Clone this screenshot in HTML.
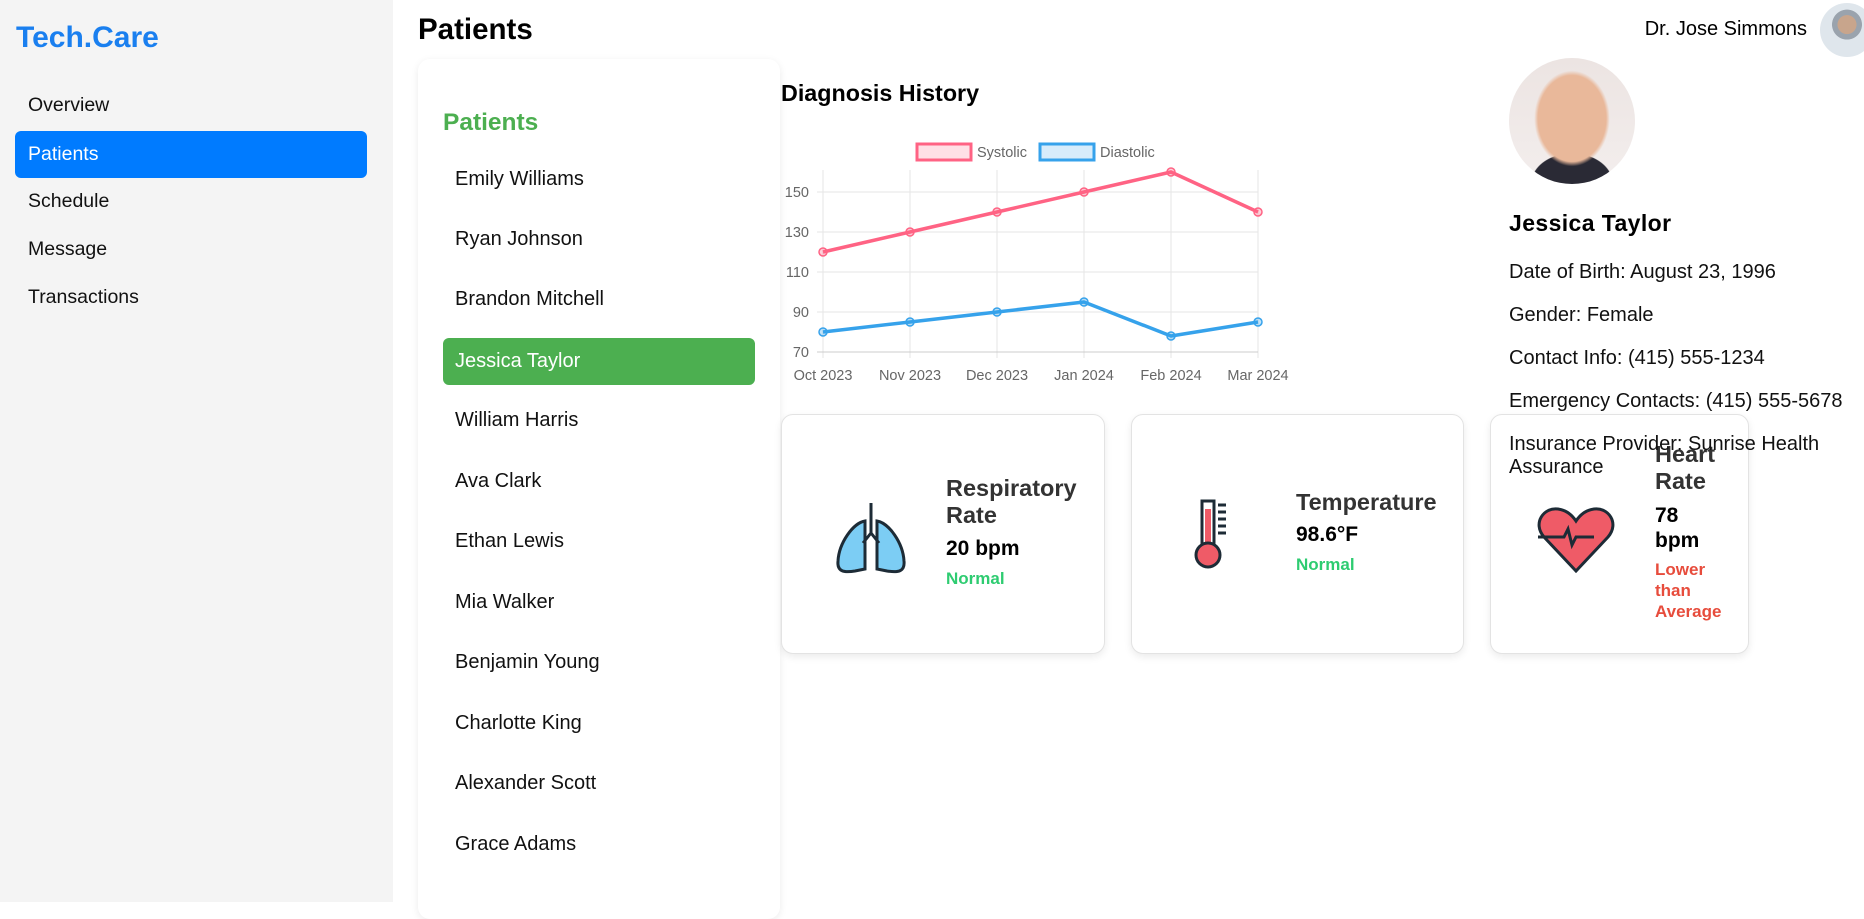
<!DOCTYPE html>
<html><head><meta charset="utf-8">
<style>
*{box-sizing:border-box;margin:0;padding:0}
body{width:1864px;height:902px;overflow:hidden;background:#fff;font-family:"Liberation Sans",Arial,sans-serif;position:relative;color:#000}
.abs{position:absolute;white-space:nowrap}
#sidebar{position:absolute;left:0;top:0;width:393px;height:902px;background:#f4f4f4}
.nav{position:absolute;left:15px;width:352px;height:47px;line-height:47px;padding-left:13px;font-size:19.5px;border-radius:6px;color:#111}
.nav.active{background:#007bff;color:#fff}
#plist{position:absolute;left:418px;top:59px;width:362px;height:860px;background:#fff;border-radius:12px;box-shadow:0 2px 8px rgba(0,0,0,0.08)}
.pi{position:absolute;left:25px;width:312px;height:47px;line-height:47px;padding-left:12px;font-size:20px;color:#111;border-radius:6px}
.pi.active{background:#4caf50;color:#fff}
.card{position:absolute;top:414px;height:240px;background:#fff;border:1px solid #e3e3e3;border-radius:12px;box-shadow:0 3px 8px rgba(0,0,0,0.08)}
.ct{font-size:23.5px;font-weight:bold;color:#333;line-height:27px}
.cv{font-size:21px;font-weight:bold;color:#000;line-height:25px}
.cs{font-size:17px;font-weight:bold;line-height:21px}
.info{position:absolute;left:1509px;font-size:20px;color:#111;white-space:nowrap}
</style></head><body>
<div id="sidebar">
  <div class="abs" style="left:16px;top:21px;font-size:30px;font-weight:bold;color:#1a7fef">Tech.Care</div>
  <div class="nav" style="top:82px">Overview</div>
  <div class="nav active" style="top:131px">Patients</div>
  <div class="nav" style="top:178px">Schedule</div>
  <div class="nav" style="top:226px">Message</div>
  <div class="nav" style="top:274px">Transactions</div>
</div>
<div class="abs" style="left:418px;top:13px;font-size:29.5px;font-weight:bold">Patients</div>
<div class="abs" style="right:57px;top:18px;font-size:20px">Dr. Jose Simmons</div>
<div class="abs" style="left:1820px;top:3px;width:54px;height:54px;border-radius:50%;background:radial-gradient(circle at 50% 40%,#c8a58c 0 22%,#9aa3ad 23% 35%,#dfe6ec 36%)"></div>

<div id="plist">
  <div class="abs" style="left:25px;top:50px;font-size:24.5px;font-weight:bold;color:#4caf50">Patients</div>
  <div class="pi" style="top:97px">Emily Williams</div>
  <div class="pi" style="top:157px">Ryan Johnson</div>
  <div class="pi" style="top:217px">Brandon Mitchell</div>
  <div class="pi active" style="top:279px">Jessica Taylor</div>
  <div class="pi" style="top:338px">William Harris</div>
  <div class="pi" style="top:399px">Ava Clark</div>
  <div class="pi" style="top:459px">Ethan Lewis</div>
  <div class="pi" style="top:520px">Mia Walker</div>
  <div class="pi" style="top:580px">Benjamin Young</div>
  <div class="pi" style="top:641px">Charlotte King</div>
  <div class="pi" style="top:701px">Alexander Scott</div>
  <div class="pi" style="top:762px">Grace Adams</div>
</div>

<div class="abs" style="left:781px;top:80px;font-size:23.3px;font-weight:bold">Diagnosis History</div>
<svg id="chart" style="position:absolute;left:770px;top:130px" width="550" height="270"></svg>

<div class="card" style="left:781px;width:324px">
  <svg class="abs" style="left:53px;top:86px" width="72" height="74" viewBox="0 0 72 74">
    <path d="M30 20 C18 22 4 42 3 60 C2 70 8 72 20 70 L30 68 Z" fill="#7ccdf4" stroke="#1d2b36" stroke-width="3"/>
    <path d="M42 20 C54 22 68 42 69 60 C70 70 64 72 52 70 L42 68 Z" fill="#7ccdf4" stroke="#1d2b36" stroke-width="3"/>
    <path d="M36 2 V32 M36 32 L28 42 M36 32 L44 42" stroke="#1d2b36" stroke-width="3" fill="none"/>
  </svg>
  <div class="abs ct" style="left:164px;top:60px;white-space:normal;width:150px">Respiratory Rate</div>
  <div class="abs cv" style="left:164px;top:121px">20 bpm</div>
  <div class="abs cs" style="left:164px;top:153px;color:#2ecc71">Normal</div>
</div>
<div class="card" style="left:1131px;width:333px">
  <svg class="abs" style="left:60px;top:84px" width="50" height="72" viewBox="0 0 50 72">
    <rect x="10" y="2" width="12" height="46" fill="#fff" stroke="#1d2b36" stroke-width="3"/>
    <rect x="13" y="10" width="6" height="40" fill="#ef5b67"/>
    <circle cx="16" cy="56" r="12" fill="#ef5b67" stroke="#1d2b36" stroke-width="3"/>
    <g stroke="#1d2b36" stroke-width="3"><path d="M26 6h8M26 13h8M26 20h8M26 27h8M26 34h8"/></g>
  </svg>
  <div class="abs ct" style="left:164px;top:74px">Temperature</div>
  <div class="abs cv" style="left:164px;top:107px">98.6°F</div>
  <div class="abs cs" style="left:164px;top:139px;color:#2ecc71">Normal</div>
</div>
<div class="card" style="left:1490px;width:259px">
  <svg class="abs" style="left:45px;top:92px" width="80" height="66" viewBox="0 0 80 66">
    <path d="M40 64 L8 30 C-4 16 8 0 22 2 C30 3 36 8 40 14 C44 8 50 3 58 2 C72 0 84 16 72 30 Z" fill="#ef5b67" stroke="#1d2b36" stroke-width="3"/>
    <path d="M2 30 H28 L32 22 L36 38 L40 30 H58" stroke="#1d2b36" stroke-width="3" fill="none"/>
  </svg>
  <div class="abs ct" style="left:164px;top:26px;white-space:normal;width:80px">Heart Rate</div>
  <div class="abs cv" style="left:164px;top:88px;white-space:normal;width:60px">78 bpm</div>
  <div class="abs cs" style="left:164px;top:144px;color:#e74c3c;white-space:normal;width:80px">Lower than Average</div>
</div>

<div class="abs" style="left:1509px;top:58px;width:126px;height:126px;border-radius:50%;background:radial-gradient(ellipse 30% 38% at 50% 48%,#e9b89a 0 90%,transparent 100%),radial-gradient(ellipse 40% 30% at 50% 100%,#2a2a35 0 80%,transparent 82%),linear-gradient(#ece4e2,#f3eeed)"></div>
<div class="abs" style="left:1509px;top:210px;font-size:23px;font-weight:bold;letter-spacing:0.4px">Jessica Taylor</div>
<div class="info" style="top:261px">Date of Birth: August 23, 1996</div>
<div class="info" style="top:304px">Gender: Female</div>
<div class="info" style="top:347px">Contact Info: (415) 555-1234</div>
<div class="info" style="top:390px">Emergency Contacts: (415) 555-5678</div>
<div class="info" style="top:433px;line-height:23px">Insurance Provider: Sunrise Health<br>Assurance</div>

<script>
const categories=["Oct 2023","Nov 2023","Dec 2023","Jan 2024","Feb 2024","Mar 2024"];
const systolic=[120,130,140,150,160,140];
const diastolic=[80,85,90,95,78,85];
const yTicks=[70,90,110,130,150];
const svg=document.getElementById('chart');
const NS='http://www.w3.org/2000/svg';
const X0=53,X1=488,Y0=222,YMIN=70,YMAX=160,YTOP=42;
const x=i=>X0+(X1-X0)*i/(categories.length-1);
const y=v=>Y0-(v-YMIN)*(Y0-YTOP)/(YMAX-YMIN);
function mk(t,a){const e=document.createElementNS(NS,t);for(const k in a)e.setAttribute(k,a[k]);svg.appendChild(e);return e;}
categories.forEach((c,i)=>{
  const g=mk('line',{x1:x(i),x2:x(i),y1:YTOP-2,y2:Y0+6,stroke:'#e5e5e5'});
  
  
  const t=mk('text',{x:x(i),y:Y0+28,'text-anchor':'middle','font-size':'14.5','fill':'#666','font-family':'Liberation Sans, sans-serif'});
  t.textContent=c;
  
  
});
yTicks.forEach(v=>{
  const g=mk('line',{x1:X0-6,x2:X1,y1:y(v),y2:y(v),stroke:v===YMIN?'#ccc':'#e5e5e5'});
  
  
  const t=mk('text',{x:X0-14,y:y(v)+5,'text-anchor':'end','font-size':'14.5','fill':'#666','font-family':'Liberation Sans, sans-serif'});
  t.textContent=v;
  
  
});
function series(vals,col,name){
  const p=mk('polyline',{points:vals.map((v,i)=>x(i)+','+y(v)).join(' '),fill:'none',stroke:col,'stroke-width':3.5,'stroke-linejoin':'round'});
  
  
  vals.forEach((v,i)=>{
    const c=mk('circle',{cx:x(i),cy:y(v),r:4,fill:col,'fill-opacity':0.3,stroke:col,'stroke-width':1.5});
    
    
  });
}
series(systolic,'#ff6384','systolic');
series(diastolic,'#36a2eb','diastolic');
const legend=[["Systolic","#ff6384","rgba(255,99,132,0.2)",147],["Diastolic","#36a2eb","rgba(54,162,235,0.2)",270]];
legend.forEach(l=>{
  const r=mk('rect',{x:l[3],y:14,width:54,height:16,fill:l[2],stroke:l[1],'stroke-width':3});
  
  
  const t=mk('text',{x:l[3]+60,y:27,'font-size':'14.5','fill':'#666','font-family':'Liberation Sans, sans-serif'});
  t.textContent=l[0];
  
  
});
</script>
</body></html>
